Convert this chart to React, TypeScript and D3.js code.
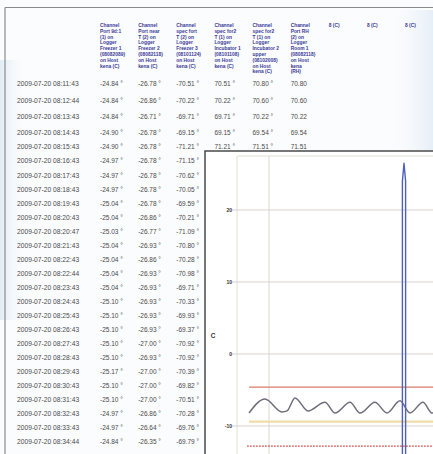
import React from "react";
import * as d3 from "d3";

// ---------- table data ----------
const dates = [
  "2009-07-20 08:11:43", "2009-07-20 08:12:44", "2009-07-20 08:13:43", "2009-07-20 08:14:43",
  "2009-07-20 08:15:43", "2009-07-20 08:16:43", "2009-07-20 08:17:43", "2009-07-20 08:18:43",
  "2009-07-20 08:19:43", "2009-07-20 08:20:43", "2009-07-20 08:20:47", "2009-07-20 08:21:43",
  "2009-07-20 08:22:43", "2009-07-20 08:22:44", "2009-07-20 08:23:43", "2009-07-20 08:24:43",
  "2009-07-20 08:25:43", "2009-07-20 08:26:43", "2009-07-20 08:27:43", "2009-07-20 08:28:43",
  "2009-07-20 08:29:43", "2009-07-20 08:30:43", "2009-07-20 08:31:43", "2009-07-20 08:32:43",
  "2009-07-20 08:33:43", "2009-07-20 08:34:44",
];
const freezer1 = [-24.84, -24.84, -24.84, -24.9, -24.9, -24.97, -24.97, -24.97, -25.04, -25.04, -25.03, -25.04, -25.04, -25.04, -25.04, -25.1, -25.1, -25.1, -25.1, -25.1, -25.17, -25.1, -25.1, -24.97, -24.97, -24.84];
const freezer2 = [-26.78, -26.86, -26.71, -26.78, -26.78, -26.78, -26.78, -26.78, -26.78, -26.86, -26.77, -26.93, -26.86, -26.93, -26.93, -26.93, -26.93, -26.93, -27.0, -26.93, -27.0, -27.0, -27.0, -26.86, -26.64, -26.35];
const freezer3 = [-70.51, -70.22, -69.71, -69.15, -71.21, -71.15, -70.62, -70.05, -69.59, -70.21, -71.09, -70.8, -70.28, -70.98, -69.71, -70.33, -69.93, -69.37, -70.92, -70.92, -70.39, -69.82, -70.51, -70.28, -69.76, -69.79];
const incubator1 = [70.51, 70.22, 69.71, 69.15, 71.21];
const incubator2 = [70.8, 70.6, 70.22, 69.54, 71.51];
const roomRH = [70.8, 70.6, 70.22, 69.54, 71.51];

const headers = [
  ["Channel", "Port 9d:1", "(1) on", "Logger", "Freezer 1", "(08082089)", "on Host", "kena (C)"],
  ["Channel", "Port near", "T (2) on", "Logger", "Freezer 2", "(08082118)", "on Host", "kena (C)"],
  ["Channel", "spec fort", "T (2) on", "Logger", "Freezer 3", "(08101124)", "on Host", "kena (C)"],
  ["Channel", "spec for2", "T (1) on", "Logger", "Incubator 1", "(08101108)", "on Host", "kena (C)"],
  ["Channel", "spec for2", "T (1) on", "Logger", "Incubator 2", "upper", "(08102008)", "on Host", "kena (C)"],
  ["Channel", "Port RH", "(2) on", "Logger", "Room 1", "(08082118)", "on Host", "kena", "(RH)"],
  ["8 (C)"],
  ["8 (C)"],
  ["8 (C)"],
];

// ---------- chart data ----------
const yTicks = [20, 10, 0, -10];
const waveT = [6, 14, 22.5, 25, 29, 35.5, 44, 49, 56.5, 61.5, 69, 75, 81.5, 86.5, 93, 97.5, 102];
const waveV = [-8.2, -6.25, -8.05, -7.9, -6.1, -7.9, -6.7, -8.2, -6.7, -8.2, -6.7, -8.2, -6.5, -8.2, -6.7, -8.2, -7.0];
const spikeT = [82.7, 82.7, 83.5, 84.3, 84.3];
const spikeV = [-30, 24, 26.5, 24, -30];
const lineStart = 6;
const redHigh = -4.6;
const yellowLevel = -9.4;
const redLow = -12.8;
const vGridT = [16];

export default function App() {
  const W = 433, H = 454;
  const font = "'Liberation Sans', Arial, sans-serif";

  // table scales
  const colX = d3.scaleLinear().domain([0, 8]).range([100, 405]);
  const rowY = d3.scaleLinear().domain([0, 3, 25]).range([84, 133, 442]);
  const fmt = (v: number) => v.toFixed(2);

  // chart scales
  const x = d3.scaleLinear().domain([0, 100]).range([237, 437]);
  const y = d3.scaleLinear().domain([-10, 20]).range([426, 210]);
  const waveLine = d3
    .line<[number, number]>()
    .x((d) => x(d[0]))
    .y((d) => y(d[1]))
    .curve(d3.curveMonotoneX);
  const line = d3.line<[number, number]>().x((d) => x(d[0])).y((d) => y(d[1]));
  const wave = waveLine(waveT.map((t, i) => [t, waveV[i]]));
  const spike = line(spikeT.map((t, i) => [t, spikeV[i]]));

  const valueCols: { vals: number[]; deg: boolean }[] = [
    { vals: freezer1, deg: true },
    { vals: freezer2, deg: true },
    { vals: freezer3, deg: true },
    { vals: incubator1, deg: true },
    { vals: incubator2, deg: true },
    { vals: roomRH, deg: false },
  ];

  return (
    <svg
      width={W}
      height={H}
      style={{ position: "absolute", left: 0, top: 0 }}
      fontFamily={font}
    >
      <defs>
        <linearGradient id="bgL" x1="0" x2="1" y1="0" y2="0">
          <stop offset="0" stopColor="#e2ebf5" />
          <stop offset="1" stopColor="#ffffff" stopOpacity="0" />
        </linearGradient>
        <linearGradient id="bgR" x1="1" x2="0" y1="0" y2="0">
          <stop offset="0" stopColor="#e6eef7" />
          <stop offset="1" stopColor="#ffffff" stopOpacity="0" />
        </linearGradient>
        <clipPath id="plotClip">
          <rect x={206} y={152} width={240} height={310} />
        </clipPath>
      </defs>
      <rect width={W} height={H} fill="#fbfcfe" />
      <rect x={0} y={60} width={30} height={260} fill="url(#bgL)" />
      <rect x={380} y={10} width={53} height={140} fill="url(#bgR)" />
      {/* outer frame */}
      <line x1={5} y1={7.5} x2={W} y2={7.5} stroke="#8a8a8a" strokeWidth={1.2} />
      <line x1={5} y1={7.5} x2={5} y2={H} stroke="#8a8a8a" strokeWidth={1.2} />

      {/* headers */}
      {headers.map((lines, ci) => (
        <text
          key={"h" + ci}
          x={colX(ci)}
          y={27}
          fontSize={4.9}
          fontWeight="bold"
          fill="#3a3a96"
        >
          {lines.map((l, li) => (
            <tspan key={li} x={colX(ci)} dy={li === 0 ? 0 : 5.8}>
              {l}
            </tspan>
          ))}
        </text>
      ))}

      {/* dates */}
      {dates.map((d, i) => (
        <text key={"d" + i} x={17} y={rowY(i) + 2.4} fontSize={6.7} fill="#4a4a4a">
          {d}
        </text>
      ))}

      {/* values */}
      {valueCols.map((c, ci) =>
        c.vals.map((v, ri) => (
          <text
            key={"v" + ci + "_" + ri}
            x={colX(ci)}
            y={rowY(ri) + 2.4}
            fontSize={6.5}
            fill="#4a4a4a"
          >
            {fmt(v) + (c.deg ? " °" : "")}
          </text>
        ))
      )}

      {/* chart panel */}
      <rect x={205} y={151} width={260} height={330} fill="#ffffff" stroke="#4a4a4a" strokeWidth={1.5} />
      <g clipPath="url(#plotClip)">
        <line x1={237} y1={156} x2={440} y2={156} stroke="#e2ddd8" strokeWidth={1} />
        <line x1={237} y1={156} x2={237} y2={460} stroke="#e2ddd8" strokeWidth={1} />
        {vGridT.map((t) => (
          <line key={"vg" + t} x1={x(t)} y1={156} x2={x(t)} y2={460} stroke="#ddd6d0" strokeWidth={1} />
        ))}
        {yTicks.map((t) => (
          <g key={"yt" + t}>
            <line x1={232} y1={y(t)} x2={440} y2={y(t)} stroke="#d8d2cc" strokeWidth={1} />
            <text x={232} y={y(t) + 1.8} textAnchor="end" fontSize={5} fontWeight="bold" fill="#333">
              {t}
            </text>
          </g>
        ))}
        <text x={213} y={338} fontSize={6.5} fontWeight="bold" fill="#333" textAnchor="middle">
          C
        </text>
        {/* thresholds */}
        <line x1={x(lineStart)} y1={y(redHigh)} x2={x(100)} y2={y(redHigh)} stroke="#dc7a68" strokeWidth={1.3} />
        <line x1={x(lineStart)} y1={y(yellowLevel)} x2={x(100)} y2={y(yellowLevel)} stroke="#efdca6" strokeWidth={2.2} />
        <line
          x1={x(lineStart - 1)}
          y1={y(redLow)}
          x2={x(100)}
          y2={y(redLow)}
          stroke="#d9534f"
          strokeWidth={1.3}
          strokeDasharray="1.8,1.2"
        />
        {/* series */}
        <path d={wave ?? ""} fill="none" stroke="#6e6e7c" strokeWidth={1.5} strokeLinejoin="round" />
        <path d={spike ?? ""} fill="none" stroke="#4f5fc0" strokeWidth={1.4} strokeLinejoin="round" />
      </g>
    </svg>
  );
}
